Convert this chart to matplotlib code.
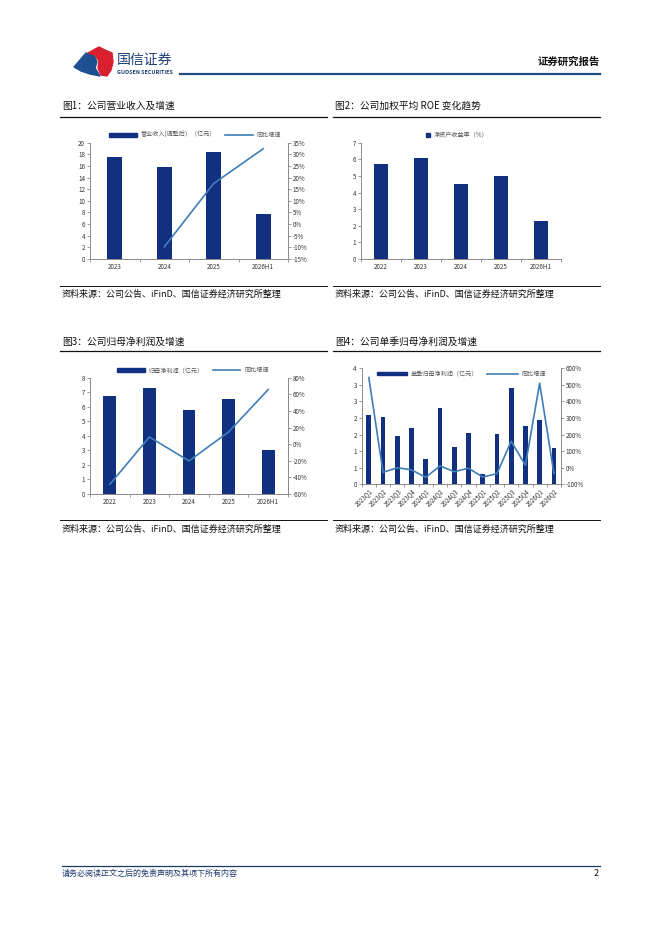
import numpy as np
import matplotlib
matplotlib.use("Agg")
import matplotlib.pyplot as plt
from matplotlib.patches import Polygon, Patch
from matplotlib.lines import Line2D
from matplotlib.ticker import FuncFormatter, MultipleLocator, FixedLocator

plt.rcParams['font.family'] = ['Noto Sans CJK SC', 'DejaVu Sans']

# ---------------- data ----------------
c1_years = ["2023", "2024", "2025", "2026H1"]
c1_revenue = [17.5, 15.8, 18.45, 7.68]
c1_growth = [None, -9.8, 17.5, 32.4]

c2_years = ["2022", "2023", "2024", "2025", "2026H1"]
c2_roe = [5.71, 6.05, 4.49, 4.99, 2.26]

c3_years = ["2022", "2023", "2024", "2025", "2026H1"]
c3_profit = [6.72, 7.29, 5.76, 6.51, 3.03]
c3_growth = [-48.4, 8.6, -20.2, 14.7, 65.7]

c4_quarters = ["2023Q1", "2023Q2", "2023Q3", "2023Q4", "2024Q1", "2024Q2", "2024Q3",
               "2024Q4", "2025Q1", "2025Q2", "2025Q3", "2025Q4", "2026Q1", "2026Q2"]
c4_profit = [2.08, 2.02, 1.46, 1.69, 0.76, 2.29, 1.12, 1.56, 0.31, 1.52, 2.91, 1.77, 1.93, 1.09]
c4_growth = [544, -28, 0, -13, -58, 11, -24, -3, -56, -36, 160, 15, 510, -34]

titles = ["图1：公司营业收入及增速", "图2：公司加权平均 ROE 变化趋势",
          "图3：公司归母净利润及增速", "图4：公司单季归母净利润及增速"]
source = "资料来源：公司公告、iFinD、国信证券经济研究所整理"

BAR = "#11307f"
LINE = "#3f7db8"
AXC = "#8a8a8a"
TXT = "#333333"

W, H = 662, 936
fig = plt.figure(figsize=(W / 100, H / 100), dpi=100)
fig.patch.set_facecolor("white")


def fx(x):
    return x / W


def fy(y):
    return 1 - y / H


def make_ax(l, r, t, b):
    return fig.add_axes([fx(l), fy(b), (r - l) / W, (b - t) / H])


def style_ax(ax, ncat, right=None):
    for s in ["top", "right"]:
        ax.spines[s].set_visible(False)
    for s in ["left", "bottom"]:
        ax.spines[s].set_color(AXC)
        ax.spines[s].set_linewidth(0.7)
    ax.tick_params(axis="y", labelsize=4.5, colors=AXC, labelcolor=TXT, length=2, width=0.6, pad=1.5)
    ax.tick_params(axis="x", which="major", labelsize=4.5, length=0, labelcolor=TXT, pad=3)
    ax.xaxis.set_minor_locator(FixedLocator(np.arange(-0.5, ncat + 0.5, 1)))
    ax.tick_params(axis="x", which="minor", length=2.5, width=0.6, colors=AXC)
    ax.set_xlim(-0.5, ncat - 0.5)
    if right is not None:
        for s in ["top", "left", "bottom"]:
            right.spines[s].set_visible(False)
        right.spines["right"].set_color(AXC)
        right.spines["right"].set_linewidth(0.7)
        right.tick_params(axis="y", labelsize=4.5, colors=AXC, labelcolor=TXT, length=2, width=0.6, pad=1.5)


def panel_frame(x0, x1, ytitle, yline, ysrcline, ysrc, title):
    fig.text(fx(x0 + 2), fy(ytitle), title, fontsize=7, va="center", ha="left", color="#111111",
             weight="medium")
    fig.add_artist(Line2D([fx(x0), fx(x1)], [fy(yline), fy(yline)], color="#111111", lw=0.9))
    fig.add_artist(Line2D([fx(x0), fx(x1)], [fy(ysrcline), fy(ysrcline)], color="#111111", lw=0.7))
    fig.text(fx(x0 + 2), fy(ysrc), source, fontsize=6.5, va="center", ha="left", color="#111111")


pct = FuncFormatter(lambda v, p: f"{v:.0f}%")

# ---------------- chart 1 ----------------
ax1 = make_ax(90, 288, 142.7, 259)
x1 = np.arange(len(c1_years))
ax1.bar(x1, c1_revenue, width=0.31, color=BAR, zorder=2)
ax1.set_ylim(0, 20)
ax1.yaxis.set_major_locator(MultipleLocator(2))
ax1.set_xticks(x1)
ax1.set_xticklabels(c1_years)
r1 = ax1.twinx()
gx = [i for i, v in enumerate(c1_growth) if v is not None]
gy = [v for v in c1_growth if v is not None]
r1.plot(gx, gy, color=LINE, lw=1.2, zorder=3)
r1.set_ylim(-15, 35)
r1.yaxis.set_major_locator(MultipleLocator(5))
r1.yaxis.set_major_formatter(pct)
style_ax(ax1, len(c1_years), r1)
h1 = [Patch(color=BAR), Line2D([], [], color=LINE, lw=1.2)]
ax1.legend(h1, ["营业收入(调整后）（亿元）", "同比增速"], loc="lower center",
           bbox_to_anchor=(0.53, 1.0), ncol=2, frameon=False, fontsize=4.4,
           labelcolor="#555555", handlelength=4.5, handleheight=0.6, columnspacing=1.5,
           handletextpad=0.6, borderaxespad=0.2)

# ---------------- chart 2 ----------------
ax2 = make_ax(361, 561, 142.7, 259)
x2 = np.arange(len(c2_years))
ax2.bar(x2, c2_roe, width=0.34, color=BAR, zorder=2)
ax2.set_ylim(0, 7)
ax2.yaxis.set_major_locator(MultipleLocator(1))
ax2.set_xticks(x2)
ax2.set_xticklabels(c2_years)
style_ax(ax2, len(c2_years))
ax2.legend([Patch(color=BAR)], ["净资产收益率（%）"], loc="lower center",
           bbox_to_anchor=(0.48, 1.0), frameon=False, fontsize=4.4, labelcolor="#555555",
           handlelength=0.7, handleheight=0.7, handletextpad=0.5, borderaxespad=0.2)

# ---------------- chart 3 ----------------
ax3 = make_ax(90, 288, 377.7, 494)
x3 = np.arange(len(c3_years))
ax3.bar(x3, c3_profit, width=0.32, color=BAR, zorder=2)
ax3.set_ylim(0, 8)
ax3.yaxis.set_major_locator(MultipleLocator(1))
ax3.set_xticks(x3)
ax3.set_xticklabels(c3_years)
r3 = ax3.twinx()
r3.plot(x3, c3_growth, color=LINE, lw=1.2, zorder=3)
r3.set_ylim(-60, 80)
r3.yaxis.set_major_locator(MultipleLocator(20))
r3.yaxis.set_major_formatter(pct)
style_ax(ax3, len(c3_years), r3)
h3 = [Patch(color=BAR), Line2D([], [], color=LINE, lw=1.2)]
ax3.legend(h3, ["归母净利润（亿元）", "同比增速"], loc="lower center",
           bbox_to_anchor=(0.52, 1.0), ncol=2, frameon=False, fontsize=4.4,
           labelcolor="#555555", handlelength=4.5, handleheight=0.6, columnspacing=1.5,
           handletextpad=0.6, borderaxespad=0.2)

# ---------------- chart 4 ----------------
ax4 = make_ax(361.7, 561, 368.3, 484.3)
x4 = np.arange(len(c4_quarters))
ax4.bar(x4, c4_profit, width=0.33, color=BAR, zorder=2)
ax4.set_ylim(0, 3.5)
ax4.yaxis.set_major_locator(MultipleLocator(0.5))
ax4.yaxis.set_major_formatter(FuncFormatter(lambda v, p: str(int(np.floor(v + 0.5 + 1e-9)))))
ax4.set_xticks(x4)
ax4.set_xticklabels(c4_quarters, rotation=45, ha="right", rotation_mode="anchor")
r4 = ax4.twinx()
r4.plot(x4, c4_growth, color=LINE, lw=1.2, zorder=3)
r4.set_ylim(-100, 600)
r4.yaxis.set_major_locator(MultipleLocator(100))
r4.yaxis.set_major_formatter(pct)
style_ax(ax4, len(c4_quarters), r4)
ax4.tick_params(axis="x", which="major", pad=2, labelsize=4.4)
h4 = [Patch(color=BAR), Line2D([], [], color=LINE, lw=1.2)]
r4.legend(h4, ["单季归母净利润（亿元）", "同比增速"], loc="upper center",
          bbox_to_anchor=(0.5, 1.02), ncol=2, frameon=False, fontsize=4.4,
          labelcolor="#555555", handlelength=5, handleheight=0.6, columnspacing=1.5,
          handletextpad=0.6, borderaxespad=0.2)

# ---------------- frames ----------------
panel_frame(60, 327, 106, 116.5, 285.5, 294, titles[0])
panel_frame(333, 600, 106, 116.5, 285.5, 294, titles[1])
panel_frame(60, 327, 342, 351, 520, 529, titles[2])
panel_frame(333, 600, 342, 351, 520, 529, titles[3])

# ---------------- header ----------------
blue_poly = [(74, 67), (86, 53), (94, 55), (97, 62), (95, 68), (100, 76), (90, 74), (81, 71)]
red_poly = [(88, 53), (99, 47), (105, 50), (112, 53), (113, 62), (111, 70), (107, 76), (101, 75), (98, 68), (99, 61), (95, 55)]
fig.add_artist(Polygon([(fx(a), fy(b)) for a, b in blue_poly], closed=True, color="#1d4f91", transform=fig.transFigure))
fig.add_artist(Polygon([(fx(a), fy(b)) for a, b in red_poly], closed=True, color="#d8202f", transform=fig.transFigure))
fig.text(fx(117), fy(60), "国信证券", fontsize=10, color="#1d3e73", va="center", ha="left", weight="medium")
fig.text(fx(117), fy(72), "GUOSEN SECURITIES", fontsize=3.9, color="#1d3e73", va="center", ha="left", weight="bold")
fig.text(fx(600), fy(62), "证券研究报告", fontsize=7.5, color="#111111", va="center", ha="right", weight="bold")
fig.add_artist(Line2D([fx(180), fx(600)], [fy(74), fy(74)], color="#1f4a7c", lw=1.6))

# ---------------- footer ----------------
fig.add_artist(Line2D([fx(62), fx(600)], [fy(866), fy(866)], color="#1f3a5f", lw=0.9))
fig.text(fx(62), fy(873), "请务必阅读正文之后的免责声明及其项下所有内容", fontsize=5.8, color="#1f3a6f",
         va="center", ha="left", style="italic")
fig.text(fx(599), fy(874), "2", fontsize=6.5, color="#111111", va="center", ha="right")

fig.savefig("out.png", dpi=100, facecolor="white")
